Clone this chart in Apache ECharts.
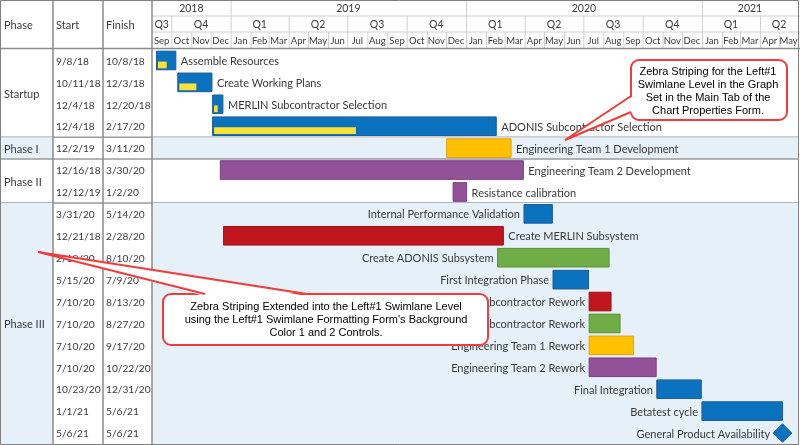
<!DOCTYPE html>
<html>
<head>
<meta charset="utf-8">
<script src="https://cdn.jsdelivr.net/npm/echarts@6/dist/echarts.min.js"></script>
<style>
  html, body { margin: 0; padding: 0; background: #fff; }
  #chart { width: 800px; height: 445px; }
</style>
</head>
<body>
<div id="chart"></div>
<script>
// ---- data ----
const phaseNames = ['Startup', 'Phase I', 'Phase II', 'Phase III'];
const phaseRowCounts = [4, 1, 2, 11];
const phaseShaded = [false, true, false, true];

const taskNames = [
  'Assemble Resources', 'Create Working Plans', 'MERLIN Subcontractor Selection', 'ADONIS Subcontractor Selection',
  'Engineering Team 1 Development',
  'Engineering Team 2 Development', 'Resistance calibration',
  'Internal Performance Validation', 'Create MERLIN Subsystem', 'Create ADONIS Subsystem', 'First Integration Phase',
  'MERLIN Subcontractor Rework', 'ADONIS Subcontractor Rework', 'Engineering Team 1 Rework', 'Engineering Team 2 Rework',
  'Final Integration', 'Betatest cycle', 'General Product Availability'
];
const startDates = [
  '2018-09-08', '2018-10-11', '2018-12-04', '2018-12-04',
  '2019-12-02',
  '2018-12-16', '2019-12-12',
  '2020-03-31', '2018-12-21', '2020-02-19', '2020-05-15',
  '2020-07-10', '2020-07-10', '2020-07-10', '2020-07-10',
  '2020-10-23', '2021-01-01', '2021-05-06'
];
const finishDates = [
  '2018-10-08', '2018-12-03', '2018-12-20', '2020-02-17',
  '2020-03-11',
  '2020-03-30', '2020-01-02',
  '2020-05-14', '2020-02-28', '2020-08-10', '2020-07-09',
  '2020-08-13', '2020-08-27', '2020-09-17', '2020-10-22',
  '2020-12-31', '2021-05-06', '2021-05-06'
];
const taskResource = [
  'Core', 'Core', 'Core', 'Core',
  'Team 1',
  'Team 2', 'Team 2',
  'Core', 'MERLIN', 'ADONIS', 'Core',
  'MERLIN', 'ADONIS', 'Team 1', 'Team 2',
  'Core', 'Core', 'Core'
];
const percentComplete = [45, 50, 35, 50, 0, 0, 0, 0, 0, 0, 0, 0, 0, 0, 0, 0, 0, 0];

const yearLabels = ['2018', '2019', '2020', '2021'];
const quarterLabels = ['Q1', 'Q2', 'Q3', 'Q4'];
const monthLabels = ['Jan', 'Feb', 'Mar', 'Apr', 'May', 'Jun', 'Jul', 'Aug', 'Sep', 'Oct', 'Nov', 'Dec'];

// ---- styling / layout ----
const resourceColors = {
  'Core':   { fill: '#0a72bf', stroke: '#1d5c97' },
  'Team 1': { fill: '#ffc000', stroke: '#dba515' },
  'Team 2': { fill: '#93519a', stroke: '#763f7d' },
  'MERLIN': { fill: '#c2161f', stroke: '#9a1219' },
  'ADONIS': { fill: '#70ad47', stroke: '#5a9236' }
};
const progressColor = '#ffe135';
const laneShade = '#e6f0f8';
const labelOnLeft = [7, 9, 10, 11, 12, 13, 14, 15, 16, 17];
const colEdges = [0, 53, 103, 152];
const textColor = '#3a3a3a';
const font = 'Lato';

function toTs(s) {
  const p = s.split('-').map(Number);
  return new Date(p[0], p[1] - 1, p[2]).getTime();
}
function fmtDate(s) {
  const p = s.split('-').map(Number);
  return p[1] + '/' + p[2] + '/' + String(p[0]).slice(2);
}

const axisMin = new Date(2018, 8, 1).getTime();
const axisMax = new Date(2021, 4, 30).getTime();
const rowIds = taskNames.map((n, i) => String(i));

// phase spans
const phaseData = [];
let r = 0;
phaseNames.forEach((name, i) => {
  phaseData.push([r, r + phaseRowCounts[i] - 1, i]);
  r += phaseRowCounts[i];
});

const taskData = taskNames.map((n, i) => [i, toTs(startDates[i]), toTs(finishDates[i]), i]);

// header cells: [level, start, end], labels kept alongside
const headerData = [];
const headerText = [];
yearLabels.forEach((yl) => {
  const y = Number(yl);
  headerData.push([0, new Date(y, 0, 1).getTime(), new Date(y + 1, 0, 1).getTime()]);
  headerText.push(yl);
  quarterLabels.forEach((ql, q) => {
    headerData.push([1, new Date(y, q * 3, 1).getTime(), new Date(y, q * 3 + 3, 1).getTime()]);
    headerText.push(ql);
  });
  monthLabels.forEach((ml, m) => {
    headerData.push([2, new Date(y, m, 1).getTime(), new Date(y, m + 1, 1).getTime()]);
    headerText.push(ml);
  });
});

function renderHeaderCell(params, api) {
  const cs = params.coordSys;
  const level = api.value(0);
  let x0 = api.coord([api.value(1), level])[0];
  let x1 = api.coord([api.value(2), level])[0];
  if (x1 <= cs.x || x0 >= cs.x + cs.width) return;
  x0 = Math.max(x0, cs.x);
  x1 = Math.min(x1, cs.x + cs.width);
  const band = api.size([0, 1])[1];
  const cy = api.coord([api.value(1), level])[1];
  const children = [];
  if (x0 > cs.x + 0.5) {
    children.push({ type: 'line', shape: { x1: x0 + 0.5, y1: cy - band / 2, x2: x0 + 0.5, y2: cy + band / 2 },
      style: { stroke: '#d0d0d0', lineWidth: 1 } });
  }
  children.push({ type: 'text', style: { text: headerText[params.dataIndex], x: (x0 + x1) / 2, y: cy + 1,
    align: 'center', verticalAlign: 'middle', fill: textColor,
    font: (level === 2 ? '9.5px ' : '10.5px ') + font } });
  return { type: 'group', children: children };
}

function renderLane(params, api) {
  const cs = params.coordSys;
  const band = api.size([0, 1])[1];
  const top = api.coord([axisMin, api.value(0)])[1] - band / 2;
  const bottom = api.coord([axisMin, api.value(1)])[1] + band / 2;
  const children = [];
  if (phaseShaded[api.value(2)]) {
    children.push({ type: 'rect', shape: { x: cs.x, y: top, width: cs.width, height: bottom - top },
      style: { fill: laneShade } });
  }
  if (api.value(2) < phaseNames.length - 1) {
    children.push({ type: 'line', shape: { x1: cs.x, y1: bottom, x2: cs.x + cs.width, y2: bottom },
      style: { stroke: '#9a9a9a', lineWidth: 1.5 } });
  }
  return { type: 'group', children: children };
}

function renderPhaseCell(params, api) {
  const band = api.size([0, 1])[1];
  const first = api.value(0), last = api.value(1), idx = api.value(2);
  const top = api.coord([0, first])[1] - band / 2;
  const bottom = api.coord([0, last])[1] + band / 2;
  const x0 = api.coord([colEdges[0], first])[0];
  const x1 = api.coord([colEdges[1], first])[0];
  const x3 = api.coord([colEdges[3], first])[0];
  const children = [];
  if (phaseShaded[idx]) {
    children.push({ type: 'rect', shape: { x: x0, y: top, width: x1 - x0, height: bottom - top },
      style: { fill: laneShade } });
  }
  children.push({ type: 'text', style: { text: phaseNames[idx], x: x0 + 4, y: (top + bottom) / 2 + 1,
    align: 'left', verticalAlign: 'middle', fill: textColor, font: '11px ' + font } });
  if (idx < phaseNames.length - 1) {
    children.push({ type: 'line', shape: { x1: x0, y1: bottom, x2: x3, y2: bottom },
      style: { stroke: '#9a9a9a', lineWidth: 1.5 } });
  }
  return { type: 'group', children: children };
}

function renderDates(params, api) {
  const row = api.value(0);
  const i = api.value(3);
  const y = api.coord([0, row])[1] + 1;
  const xs = api.coord([colEdges[1], row])[0] + 3;
  const xf = api.coord([colEdges[2], row])[0] + 3;
  return { type: 'group', children: [
    { type: 'text', style: { text: fmtDate(startDates[i]), x: xs, y: y, align: 'left', verticalAlign: 'middle',
      fill: textColor, font: '10.2px ' + font } },
    { type: 'text', style: { text: fmtDate(finishDates[i]), x: xf, y: y, align: 'left', verticalAlign: 'middle',
      fill: textColor, font: '10.2px ' + font } }
  ] };
}

function renderTask(params, api) {
  const row = api.value(0);
  const i = api.value(3);
  const s = api.coord([api.value(1), row]);
  const e = api.coord([api.value(2), row]);
  const band = api.size([0, 1])[1];
  const h = band * 0.85;
  const col = resourceColors[taskResource[i]];
  const left = labelOnLeft.indexOf(i) >= 0;
  const children = [];
  let labelX;
  if (api.value(1) === api.value(2)) {
    const d = h / 2;
    children.push({ type: 'polygon', shape: { points: [[s[0], s[1] - d], [s[0] + d, s[1]], [s[0], s[1] + d], [s[0] - d, s[1]]] },
      style: { fill: col.fill, stroke: col.stroke, lineWidth: 1 } });
    labelX = left ? s[0] - d - 3 : s[0] + d + 3;
  } else {
    children.push({ type: 'rect', shape: { x: s[0], y: s[1] - h / 2, width: e[0] - s[0], height: h },
      style: { fill: col.fill, stroke: col.stroke, lineWidth: 1 } });
    const pc = percentComplete[i];
    if (pc > 0) {
      const ph = h * 0.36;
      children.push({ type: 'rect', shape: { x: s[0] + 1.5, y: s[1] + h / 2 - ph - 1.5, width: (e[0] - s[0]) * pc / 100, height: ph },
        style: { fill: progressColor } });
    }
    labelX = left ? s[0] - 4 : e[0] + 5;
  }
  children.push({ type: 'text', style: { text: taskNames[i], x: labelX, y: s[1] + 1,
    align: left ? 'right' : 'left', verticalAlign: 'middle', fill: textColor, font: '11px ' + font } });
  return { type: 'group', children: children };
}

const chart = echarts.init(document.getElementById('chart'));

const bodyTop = 49.5, bodyHeight = 394.5;
const calloutRed = '#f23c3c';

const option = {
  animation: false,
  backgroundColor: '#ffffff',
  grid: [
    { left: 152, right: 2, top: bodyTop, height: bodyHeight },
    { left: 152, right: 2, top: 0, height: 48 },
    { left: 0, width: 152, top: bodyTop, height: bodyHeight }
  ],
  xAxis: [
    { type: 'time', gridIndex: 0, min: axisMin, max: axisMax, show: false },
    { type: 'time', gridIndex: 1, min: axisMin, max: axisMax, show: false },
    { type: 'value', gridIndex: 2, min: 0, max: 152, show: false }
  ],
  yAxis: [
    { type: 'category', gridIndex: 0, data: rowIds, inverse: true, show: false },
    { type: 'category', gridIndex: 1, data: ['year', 'quarter', 'month'], inverse: true, show: false },
    { type: 'category', gridIndex: 2, data: rowIds, inverse: true, show: false }
  ],
  series: [
    { type: 'custom', name: 'lanes', xAxisIndex: 0, yAxisIndex: 0, z: 1, silent: true,
      renderItem: renderLane, data: phaseData },
    { type: 'custom', name: 'tasks', xAxisIndex: 0, yAxisIndex: 0, z: 3,
      renderItem: renderTask, encode: { x: [1, 2], y: 0 }, data: taskData },
    { type: 'custom', name: 'header', xAxisIndex: 1, yAxisIndex: 1, z: 2, silent: true,
      renderItem: renderHeaderCell, data: headerData },
    { type: 'custom', name: 'phases', xAxisIndex: 2, yAxisIndex: 2, z: 1, silent: true,
      renderItem: renderPhaseCell, data: phaseData },
    { type: 'custom', name: 'dates', xAxisIndex: 2, yAxisIndex: 2, z: 2, silent: true,
      renderItem: renderDates, data: taskData }
  ],
  graphic: [
    // header row rules
    { type: 'line', z: 50, shape: { x1: 152, y1: 16, x2: 800, y2: 16 }, style: { stroke: '#d0d0d0', lineWidth: 1 } },
    { type: 'line', z: 50, shape: { x1: 152, y1: 32, x2: 800, y2: 32 }, style: { stroke: '#d0d0d0', lineWidth: 1 } },
    { type: 'line', z: 50, shape: { x1: 0, y1: 48.5, x2: 800, y2: 48.5 }, style: { stroke: '#8a8a8a', lineWidth: 1.5 } },
    // table column rules
    { type: 'line', z: 50, shape: { x1: 53, y1: 0, x2: 53, y2: 445 }, style: { stroke: '#8a8a8a', lineWidth: 1.5 } },
    { type: 'line', z: 50, shape: { x1: 103, y1: 0, x2: 103, y2: 445 }, style: { stroke: '#8a8a8a', lineWidth: 1.5 } },
    { type: 'line', z: 50, shape: { x1: 152, y1: 0, x2: 152, y2: 445 }, style: { stroke: '#8a8a8a', lineWidth: 1.5 } },
    // table header
    { type: 'text', z: 50, style: { text: 'Phase', x: 4, y: 25, verticalAlign: 'middle', fill: textColor, font: '11px ' + font } },
    { type: 'text', z: 50, style: { text: 'Start', x: 56, y: 25, verticalAlign: 'middle', fill: textColor, font: '11px ' + font } },
    { type: 'text', z: 50, style: { text: 'Finish', x: 106, y: 25, verticalAlign: 'middle', fill: textColor, font: '11px ' + font } },
    // outer border
    { type: 'rect', z: 60, shape: { x: 0.5, y: 0.5, width: 798, height: 444 }, style: { fill: 'none', stroke: '#808080', lineWidth: 1 } },
    // callout 1
    { type: 'rect', z: 100, shape: { x: 631, y: 60, width: 156, height: 60, r: 8 },
      style: { fill: '#ffffff', stroke: calloutRed, lineWidth: 2 } },
    { type: 'polygon', z: 101, shape: { points: [[633, 96], [565, 140], [633, 112]] }, style: { fill: '#ffffff' } },
    { type: 'polyline', z: 102, shape: { points: [[631, 96], [565, 140], [631, 112]] }, style: { fill: 'none', stroke: calloutRed, lineWidth: 2 } },
    { type: 'text', z: 103, style: { text: 'Zebra Striping for the Left#1\nSwimlane Level in the Graph\nSet in the Main Tab of the\nChart Properties Form.',
      x: 708, y: 91, align: 'center', verticalAlign: 'middle', lineHeight: 13, fill: '#000', font: '11px "Liberation Sans"' } },
    // callout 2
    { type: 'rect', z: 100, shape: { x: 163, y: 294, width: 325, height: 51, r: 8 },
      style: { fill: '#ffffff', stroke: calloutRed, lineWidth: 2 } },
    { type: 'polygon', z: 101, shape: { points: [[205, 296], [38, 252], [307, 296]] }, style: { fill: '#ffffff' } },
    { type: 'polyline', z: 102, shape: { points: [[205, 294], [38, 252], [307, 294]] }, style: { fill: 'none', stroke: calloutRed, lineWidth: 2 } },
    { type: 'text', z: 103, style: { text: 'Zebra Striping Extended into the Left#1 Swimlane Level\nusing the Left#1 Swimlane Formatting Form\'s Background\nColor 1 and 2 Controls.',
      x: 326, y: 320, align: 'center', verticalAlign: 'middle', lineHeight: 13, fill: '#000', font: '11px "Liberation Sans"' } }
  ]
};

chart.setOption(option);
</script>
</body>
</html>
